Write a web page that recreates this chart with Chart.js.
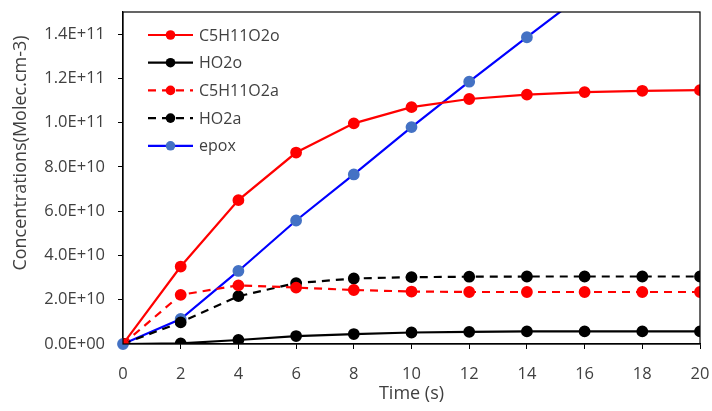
<!DOCTYPE html>
<html>
<head>
<meta charset="utf-8">
<script src="https://cdn.jsdelivr.net/npm/chart.js@4/dist/chart.umd.min.js"></script>
<style>
  html, body { margin: 0; padding: 0; background: #fff; }
  #wrap { width: 712px; height: 411px; position: relative; }
</style>
</head>
<body>
<div id="wrap"><canvas id="chart" width="712" height="411"></canvas></div>
<script>
// ---------- data ----------
const times = [0, 2, 4, 6, 8, 10, 12, 14, 16, 18, 20];
const c5h11o2o = [0, 3.5e10, 6.5e10, 8.65e10, 9.97e10, 10.7e10, 11.07e10, 11.27e10, 11.38e10, 11.44e10, 11.47e10];
const ho2o = [0, 0.03e10, 0.18e10, 0.36e10, 0.45e10, 0.52e10, 0.55e10, 0.57e10, 0.57e10, 0.57e10, 0.57e10];
const c5h11o2a = [0, 2.22e10, 2.65e10, 2.55e10, 2.44e10, 2.37e10, 2.35e10, 2.35e10, 2.35e10, 2.35e10, 2.35e10];
const ho2a = [0, 0.98e10, 2.16e10, 2.75e10, 2.96e10, 3.02e10, 3.04e10, 3.05e10, 3.05e10, 3.05e10, 3.05e10];
const epox = [0, 1.13e10, 3.3e10, 5.58e10, 7.66e10, 9.8e10, 11.85e10, 13.86e10, 15.85e10, 17.85e10, 19.8e10];
const xTicks = [0, 2, 4, 6, 8, 10, 12, 14, 16, 18, 20];
const yTicks = [0, 2e10, 4e10, 6e10, 8e10, 1e11, 1.2e11, 1.4e11];

const FONT = "'Open Sans', 'Liberation Sans', sans-serif";
const TXT = "#404040";

function pts(arr) {
  return times.map((t, i) => ({ x: t, y: arr[i] }));
}
function sci(v) {
  const s = Number(v).toExponential(1).toUpperCase();
  const [m, e] = s.split("E");
  const sign = e[0] === "-" ? "-" : "+";
  const d = e.replace(/[+-]/, "").padStart(2, "0");
  return m + "E" + sign + d;
}

function series(label, arr, line, marker, dashed) {
  return {
    label,
    data: pts(arr),
    borderColor: line,
    backgroundColor: marker,
    pointBackgroundColor: marker,
    pointBorderColor: marker,
    pointRadius: 4.8,
    pointHoverRadius: 4.8,
    borderWidth: 2.2,
    borderDash: dashed ? [8, 6] : [],
    tension: 0,
  };
}

const datasets = [
  series("C5H11O2o", c5h11o2o, "#ff0000", "#ff0000", false),
  series("HO2o", ho2o, "#000000", "#000000", false),
  series("C5H11O2a", c5h11o2a, "#ff0000", "#ff0000", true),
  series("HO2a", ho2a, "#000000", "#000000", true),
  Object.assign(series("epox", epox, "#0000ff", "#4472c4", false), {
    clip: { left: 6, right: 6, bottom: 6, top: 0 },
  }),
];

// box around plot, legend inside plot area, y title
const frameAndLegend = {
  id: "frameAndLegend",
  afterDatasetsDraw(chart) {
    const { ctx, chartArea: a } = chart;
    ctx.save();
    ctx.strokeStyle = "#000";
    ctx.lineWidth = 1.2;
    ctx.strokeRect(a.left, a.top, a.right - a.left, a.bottom - a.top);

    const x0 = a.left + 25, x1 = a.left + 70;
    let y = 35;
    ctx.font = "16px " + FONT;
    ctx.textBaseline = "middle";
    chart.data.datasets.forEach((ds) => {
      ctx.strokeStyle = ds.borderColor;
      ctx.lineWidth = 2.2;
      ctx.setLineDash(ds.borderDash || []);
      ctx.beginPath();
      ctx.moveTo(x0, y);
      ctx.lineTo(x1, y);
      ctx.stroke();
      ctx.setLineDash([]);
      ctx.fillStyle = ds.pointBackgroundColor;
      ctx.beginPath();
      ctx.arc((x0 + x1) / 2, y, 4.8, 0, Math.PI * 2);
      ctx.fill();
      ctx.fillStyle = TXT;
      ctx.fillText(ds.label, x1 + 6, y + 1);
      y += 27.7;
    });

    // y-axis title
    ctx.translate(21, 153);
    ctx.rotate(-Math.PI / 2);
    ctx.textAlign = "center";
    ctx.font = "18px " + FONT;
    ctx.fillStyle = TXT;
    ctx.fillText("Concentrations(Molec.cm-3)", 0, 0);
    ctx.restore();
  },
};

new Chart(document.getElementById("chart").getContext("2d"), {
  type: "line",
  data: { datasets },
  options: {
    responsive: false,
    animation: false,
    events: [],
    layout: { padding: { left: 0, right: 12, top: 12, bottom: 0 } },
    plugins: { legend: { display: false }, tooltip: { enabled: false } },
    scales: {
      x: {
        type: "linear",
        min: 0,
        max: 20,
        afterBuildTicks: (s) => { s.ticks = xTicks.map((v) => ({ value: v })); },
        afterFit: (s) => {
          s.height = 67;
          s.paddingLeft = 0;
          s.paddingRight = 0;
        },
        grid: { drawOnChartArea: false, drawTicks: true, tickLength: 5, color: "#000" },
        border: { display: true, color: "#000", width: 1.2 },
        ticks: { color: TXT, font: { family: FONT, size: 16.5 }, padding: 15, maxRotation: 0 },
        title: {
          display: true,
          text: "Time (s)",
          color: TXT,
          font: { family: FONT, size: 18 },
          padding: { top: 0, bottom: 6 },
        },
      },
      y: {
        min: 0,
        max: 1.5e11,
        afterBuildTicks: (s) => { s.ticks = yTicks.map((v) => ({ value: v })); },
        afterFit: (s) => {
          s.width = 123;
          s.paddingTop = 0;
          s.paddingBottom = 0;
        },
        grid: { drawOnChartArea: false, drawTicks: true, tickLength: 5, color: "#000" },
        border: { display: true, color: "#000", width: 1.2 },
        ticks: { color: TXT, font: { family: FONT, size: 16.5 }, padding: 13, callback: (v) => sci(v) },
        title: { display: false },
      },
    },
  },
  plugins: [frameAndLegend],
});
</script>
</body>
</html>
